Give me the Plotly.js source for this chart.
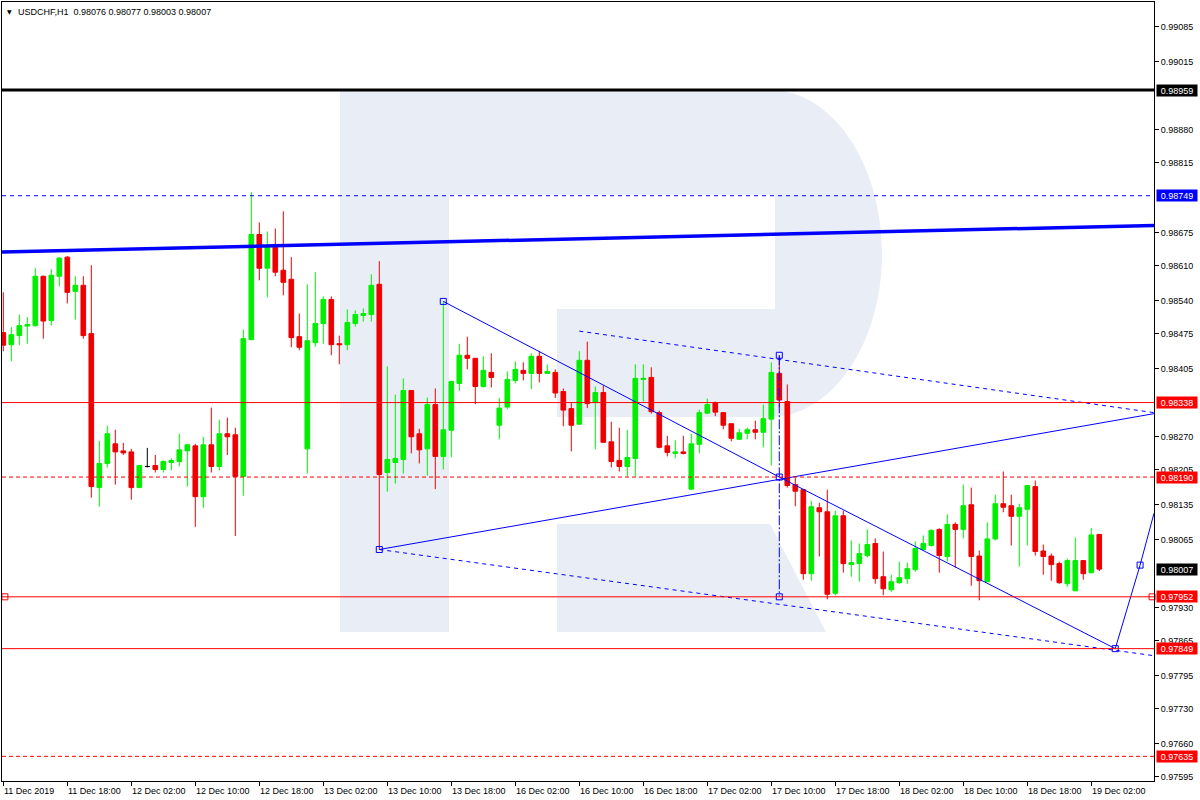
<!DOCTYPE html>
<html>
<head>
<meta charset="utf-8">
<script src="https://cdn.plot.ly/plotly-3.0.1.min.js"></script>
<style>
  html, body { margin: 0; padding: 0; background: #ffffff; }
  #chart { width: 1200px; height: 800px; }
</style>
</head>
<body>
<div id="chart"></div>
<script>
// ---------------- DATA (USDCHF, H1, bar index 0 = 11 Dec 2019 10:00) ----------------
const openP = [
  0.98477,0.98453,0.98471,0.98490,0.98491,0.98589,0.98501,0.98589,0.98627,0.98559,
  0.98571,0.98475,0.98169,0.98217,0.98256,0.98242,0.98240,0.98169,0.98211,0.98213,
  0.98205,0.98219,0.98221,0.98242,0.98252,0.98151,0.98254,0.98211,0.98276,0.98274,
  0.98191,0.98463,0.98672,0.98605,0.98648,0.98601,0.98583,0.98469,0.98246,0.98457,
  0.98495,0.98543,0.98455,0.98453,0.98495,0.98511,0.98513,0.98573,0.98199,0.98219,
  0.98225,0.98362,0.98276,0.98246,0.98334,0.98231,0.98283,0.98376,0.98432,0.98426,
  0.98370,0.98398,0.98293,0.98329,0.98382,0.98402,0.98396,0.98430,0.98396,0.98398,
  0.98360,0.98326,0.98295,0.98422,0.98338,0.98358,0.98260,0.98223,0.98211,0.98227,
  0.98384,0.98388,0.98318,0.98252,0.98237,0.98240,0.98166,0.98255,0.98317,0.98338,
  0.98318,0.98296,0.98265,0.98277,0.98284,0.98279,0.98305,0.98396,0.98340,0.98175,
  0.98165,0.97998,0.98129,0.98121,0.97959,0.98113,0.98016,0.98018,0.98034,0.98058,
  0.97992,0.97966,0.97980,0.97988,0.98006,0.98046,0.98054,0.98086,0.98032,0.98096,
  0.98086,0.98135,0.98033,0.97982,0.98067,0.98137,0.98133,0.98112,0.98126,0.98171,
  0.98043,0.98033,0.98018,0.97978,0.97964,0.98024,0.98000,0.98076
];
const highP = [
  0.98557,0.98488,0.98513,0.98508,0.98605,0.98590,0.98603,0.98627,0.98629,0.98589,
  0.98589,0.98611,0.98262,0.98292,0.98284,0.98258,0.98246,0.98213,0.98248,0.98234,
  0.98223,0.98227,0.98276,0.98256,0.98256,0.98270,0.98328,0.98304,0.98308,0.98288,
  0.98483,0.98756,0.98696,0.98678,0.98684,0.98718,0.98627,0.98515,0.98573,0.98597,
  0.98549,0.98549,0.98471,0.98523,0.98521,0.98525,0.98593,0.98619,0.98410,0.98354,
  0.98386,0.98363,0.98286,0.98348,0.98366,0.98539,0.98381,0.98455,0.98469,0.98426,
  0.98430,0.98436,0.98347,0.98400,0.98420,0.98418,0.98436,0.98440,0.98414,0.98404,
  0.98366,0.98337,0.98440,0.98459,0.98370,0.98372,0.98300,0.98288,0.98284,0.98414,
  0.98414,0.98408,0.98322,0.98272,0.98263,0.98272,0.98276,0.98324,0.98346,0.98340,
  0.98319,0.98297,0.98286,0.98288,0.98302,0.98334,0.98418,0.98432,0.98374,0.98189,
  0.98165,0.98143,0.98139,0.98165,0.98123,0.98123,0.98064,0.98058,0.98086,0.98068,
  0.98042,0.97996,0.98022,0.98020,0.98062,0.98074,0.98086,0.98088,0.98116,0.98100,
  0.98175,0.98169,0.98044,0.98100,0.98155,0.98201,0.98155,0.98137,0.98173,0.98183,
  0.98056,0.98038,0.98022,0.98028,0.98070,0.98024,0.98089,0.98077
];
const lowP = [
  0.98440,0.98420,0.98452,0.98455,0.98489,0.98465,0.98491,0.98569,0.98535,0.98503,
  0.98465,0.98149,0.98131,0.98209,0.98175,0.98234,0.98145,0.98168,0.98209,0.98199,
  0.98199,0.98203,0.98211,0.98171,0.98091,0.98129,0.98199,0.98203,0.98234,0.98073,
  0.98153,0.98463,0.98581,0.98547,0.98589,0.98551,0.98448,0.98442,0.98197,0.98449,
  0.98455,0.98432,0.98414,0.98442,0.98489,0.98499,0.98499,0.98046,0.98161,0.98177,
  0.98197,0.98237,0.98217,0.98193,0.98166,0.98205,0.98229,0.98361,0.98404,0.98335,
  0.98368,0.98368,0.98265,0.98325,0.98376,0.98382,0.98365,0.98378,0.98395,0.98347,
  0.98291,0.98241,0.98294,0.98327,0.98245,0.98259,0.98209,0.98201,0.98191,0.98191,
  0.98340,0.98316,0.98247,0.98231,0.98227,0.98235,0.98165,0.98237,0.98315,0.98311,
  0.98285,0.98261,0.98264,0.98265,0.98265,0.98249,0.98213,0.98329,0.98169,0.98132,
  0.97986,0.97984,0.98032,0.97947,0.97955,0.98000,0.97992,0.97982,0.98030,0.97978,
  0.97955,0.97962,0.97978,0.97978,0.98002,0.98044,0.98052,0.98000,0.98022,0.98010,
  0.98068,0.97974,0.97945,0.97982,0.98064,0.98120,0.98054,0.98012,0.98054,0.98034,
  0.97996,0.97984,0.97978,0.97972,0.97964,0.97986,0.97998,0.98003
];
const closeP = [
  0.98452,0.98473,0.98491,0.98493,0.98589,0.98500,0.98591,0.98625,0.98557,0.98571,
  0.98471,0.98171,0.98217,0.98276,0.98240,0.98238,0.98169,0.98213,0.98211,0.98205,
  0.98221,0.98223,0.98244,0.98254,0.98151,0.98254,0.98211,0.98276,0.98270,0.98191,
  0.98465,0.98672,0.98605,0.98648,0.98597,0.98577,0.98467,0.98448,0.98461,0.98495,
  0.98543,0.98453,0.98453,0.98497,0.98513,0.98515,0.98571,0.98195,0.98225,0.98227,
  0.98362,0.98270,0.98244,0.98334,0.98231,0.98284,0.98380,0.98432,0.98426,0.98370,
  0.98402,0.98388,0.98327,0.98384,0.98404,0.98396,0.98430,0.98396,0.98400,0.98357,
  0.98323,0.98293,0.98422,0.98336,0.98358,0.98259,0.98221,0.98211,0.98229,0.98386,
  0.98386,0.98320,0.98249,0.98239,0.98240,0.98237,0.98256,0.98318,0.98334,0.98319,
  0.98293,0.98267,0.98278,0.98284,0.98279,0.98306,0.98398,0.98343,0.98173,0.98162,
  0.97998,0.98131,0.98121,0.97957,0.98113,0.98018,0.98020,0.98038,0.98056,0.97988,
  0.97968,0.97982,0.97990,0.98008,0.98048,0.98058,0.98084,0.98034,0.98096,0.98086,
  0.98133,0.98032,0.97984,0.98067,0.98137,0.98130,0.98112,0.98129,0.98173,0.98042,
  0.98032,0.98016,0.97980,0.98024,0.98024,0.97998,0.98075,0.98007
];

// x-axis tick labels (every 8 bars)
const xTickIdx = [0, 8, 16, 24, 32, 40, 48, 56, 64, 72, 80, 88, 96, 104, 112, 120, 128, 136];
const xTickText = ['11 Dec 2019','11 Dec 18:00','12 Dec 02:00','12 Dec 10:00','12 Dec 18:00',
  '13 Dec 02:00','13 Dec 10:00','13 Dec 18:00','16 Dec 02:00','16 Dec 10:00','16 Dec 18:00',
  '17 Dec 02:00','17 Dec 10:00','17 Dec 18:00','18 Dec 02:00','18 Dec 10:00','18 Dec 18:00','19 Dec 02:00'];

// y-axis tick values (those hidden behind the price tags are left out)
const yTickVals = [0.99085,0.99015,0.98880,0.98815,0.98675,0.98610,0.98540,0.98475,
  0.98405,0.98270,0.98205,0.98135,0.98065,0.97930,0.97865,0.97795,0.97730,0.97660,0.97595];

// horizontal levels
const levelPrices = [0.98959, 0.98749, 0.98338, 0.98190, 0.97952, 0.97849, 0.97635];
const levelColors = ['#000000', '#0000ff', '#ff0000', '#ff0000', '#ff0000', '#ff0000', '#ff0000'];
const levelDash   = ['solid', '4px,4px', 'solid', '4px,3px', 'solid', 'solid', '4px,3px'];
const levelWidth  = [3, 1, 1, 1, 1, 1, 1];

// price tags on the right scale
const tagPrices = [0.98959, 0.98749, 0.98338, 0.98190, 0.98007, 0.97952, 0.97849, 0.97635];
const tagColors = ['#000000', '#0000ff', '#ff0000', '#ff0000', '#000000', '#ff0000', '#ff0000', '#ff0000'];

// drawn analysis objects (bar index, price)
const trendX = [-0.17, 143.84];           const trendY = [0.98637, 0.98690];
const zigX   = [55, 97, 139, 142.1, 143.84]; const zigY = [0.98539, 0.98190, 0.97849, 0.98015, 0.98118];
const riseX  = [47, 143.84];              const riseY  = [0.98046, 0.98316];
const lowX   = [47, 143.84];              const lowY   = [0.98046, 0.97835];
const upX    = [72, 143.84];              const upY    = [0.98480, 0.98318];
const vertX  = [97, 97];                  const vertY  = [0.98432, 0.97952];
const markX  = [55, 97, 97, 97, 47, 139, 142.1];
const markY  = [0.98539, 0.98432, 0.98190, 0.97952, 0.98046, 0.97849, 0.98015];
const redMarkX = [0.2, 143.6];            const redMarkY = [0.97952, 0.97952];

const titleText = 'USDCHF,H1\u00a0\u00a00.98076 0.98077 0.98003 0.98007';

// ---------------- BUILD ----------------
const FONT = 'Liberation Sans, Arial, sans-serif';
const idx = openP.map((_, i) => i);
const norm = idx.filter(i => openP[i] !== closeP[i]);
const doji = idx.filter(i => openP[i] === closeP[i]);
const pick = (arr, ids) => ids.map(i => arr[i]);

const traces = [];
traces.push({
  type: 'candlestick', x: norm, open: pick(openP, norm), high: pick(highP, norm),
  low: pick(lowP, norm), close: pick(closeP, norm),
  increasing: { line: { color: '#00ee00', width: 1 }, fillcolor: '#00ee00' },
  decreasing: { line: { color: '#ee0000', width: 1 }, fillcolor: '#ee0000' },
  whiskerwidth: 0, hoverinfo: 'skip', showlegend: false
});
traces.push({
  type: 'candlestick', x: doji, open: pick(openP, doji), high: pick(highP, doji),
  low: pick(lowP, doji), close: pick(closeP, doji),
  increasing: { line: { color: '#000000', width: 1 }, fillcolor: '#000000' },
  decreasing: { line: { color: '#000000', width: 1 }, fillcolor: '#000000' },
  whiskerwidth: 0, hoverinfo: 'skip', showlegend: false
});
const line = (x, y, color, width, dash) => ({
  type: 'scatter', mode: 'lines', x, y, line: { color, width, dash },
  hoverinfo: 'skip', showlegend: false, cliponaxis: true
});
traces.push(line(trendX, trendY, '#0000ff', 3.5, 'solid'));
traces.push(line(zigX, zigY, '#0000ff', 1, 'solid'));
traces.push(line(riseX, riseY, '#0000ff', 1, 'solid'));
traces.push(line(lowX, lowY, '#0000ff', 1, '4px,4px'));
traces.push(line(upX, upY, '#0000ff', 1, '4px,4px'));
traces.push(line(vertX, vertY, '#0000ff', 1, '10px,2px,2px,2px'));
traces.push({
  type: 'scatter', mode: 'markers', x: markX, y: markY,
  marker: { symbol: 'square-open', size: 6, color: '#0000ff', line: { width: 1, color: '#0000ff' } },
  hoverinfo: 'skip', showlegend: false, cliponaxis: false
});
traces.push({
  type: 'scatter', mode: 'markers', x: redMarkX, y: redMarkY,
  marker: { symbol: 'square-open', size: 6, color: '#ff0000', line: { width: 1, color: '#ff0000' } },
  hoverinfo: 'skip', showlegend: false, cliponaxis: false
});

// plot area geometry in pixels (for watermark)
const L = 2, T = 2, W = 1152, H = 779;
const px = v => ((v - L) / W).toFixed(5);
const py = v => ((T + H - v) / H).toFixed(5);
const P = (x, y) => px(x) + ',' + py(y);
const cx = 770, cy = 253.5, rx = 112, ry = 163.5, k = 0.5523;
const bowl = 'M' + P(340, 90) + ' L' + P(cx, 90) +
  ' C' + P(cx + k * rx, 90) + ' ' + P(cx + rx, cy - k * ry) + ' ' + P(cx + rx, cy) +
  ' C' + P(cx + rx, cy + k * ry) + ' ' + P(cx + k * rx, 417) + ' ' + P(cx, 417) +
  ' L' + P(557, 417) + ' L' + P(557, 309) + ' L' + P(775, 309) + ' L' + P(775, 195) +
  ' L' + P(340, 195) + ' Z';
const stem = 'M' + P(340, 90) + ' L' + P(449, 90) + ' L' + P(449, 632) + ' L' + P(340, 632) + ' Z';
const leg = 'M' + P(557, 524) + ' L' + P(770, 524) + ' L' + P(826, 632) + ' L' + P(557, 632) + ' Z';
const WM = '#e9edf5';

const shapes = [bowl, stem, leg].map(p => ({
  type: 'path', path: p, xref: 'paper', yref: 'paper', layer: 'below',
  fillcolor: WM, line: { width: 0 }
}));
levelPrices.forEach((v, i) => shapes.push({
  type: 'line', xref: 'paper', x0: 0, x1: 1, yref: 'y', y0: v, y1: v, layer: 'above',
  line: { color: levelColors[i], width: levelWidth[i], dash: levelDash[i] }
}));

const annotations = [];
xTickIdx.forEach((v, i) => annotations.push({
  x: v, xref: 'x', y: 0, yref: 'paper', yanchor: 'top', xanchor: 'left',
  xshift: -1, yshift: -3, text: xTickText[i], showarrow: false,
  font: { family: FONT, size: 9, color: '#000000' }
}));
tagPrices.forEach((v, i) => annotations.push({
  x: 1, xref: 'paper', y: v, yref: 'y', xanchor: 'left', yanchor: 'middle',
  xshift: 2, text: tagPrices[i].toFixed(5), showarrow: false,
  bgcolor: tagColors[i], width: 40, height: 11, borderpad: 0,
  font: { family: FONT, size: 9, color: '#ffffff' }
}));
annotations.push({
  x: 0, xref: 'paper', y: 1, yref: 'paper', xanchor: 'left', yanchor: 'top',
  xshift: 3, yshift: -4, text: '\u25BC', showarrow: false,
  font: { family: 'DejaVu Sans, sans-serif', size: 6, color: '#000000' }
});
annotations.push({
  x: 0, xref: 'paper', y: 1, yref: 'paper', xanchor: 'left', yanchor: 'top',
  xshift: 14, yshift: -3, text: titleText, showarrow: false,
  font: { family: FONT, size: 9, color: '#000000' }
});

const layout = {
  width: 1200, height: 800,
  margin: { l: L, r: 1200 - L - W, t: T, b: 800 - T - H, pad: 0 },
  paper_bgcolor: '#ffffff', plot_bgcolor: '#ffffff',
  showlegend: false, boxgap: 0.42, boxgroupgap: 0,
  xaxis: {
    range: [-0.1625, 143.84], showgrid: false, zeroline: false,
    showline: true, mirror: true, linecolor: '#000000', linewidth: 1,
    tickmode: 'array', tickvals: xTickIdx, showticklabels: false,
    ticks: 'outside', ticklen: 4, tickcolor: '#000000', tickwidth: 1,
    rangeslider: { visible: false }, fixedrange: true
  },
  yaxis: {
    range: [0.97586, 0.99134], side: 'right', showgrid: false, zeroline: false,
    showline: true, mirror: true, linecolor: '#000000', linewidth: 1,
    tickmode: 'array', tickvals: yTickVals, ticktext: yTickVals.map(v => v.toFixed(5)),
    ticks: 'outside', ticklen: 4, tickcolor: '#000000', tickwidth: 1,
    tickfont: { family: FONT, size: 9, color: '#000000' }, fixedrange: true
  },
  shapes, annotations
};

Plotly.newPlot('chart', traces, layout, { displayModeBar: false, staticPlot: true });
</script>
</body>
</html>
